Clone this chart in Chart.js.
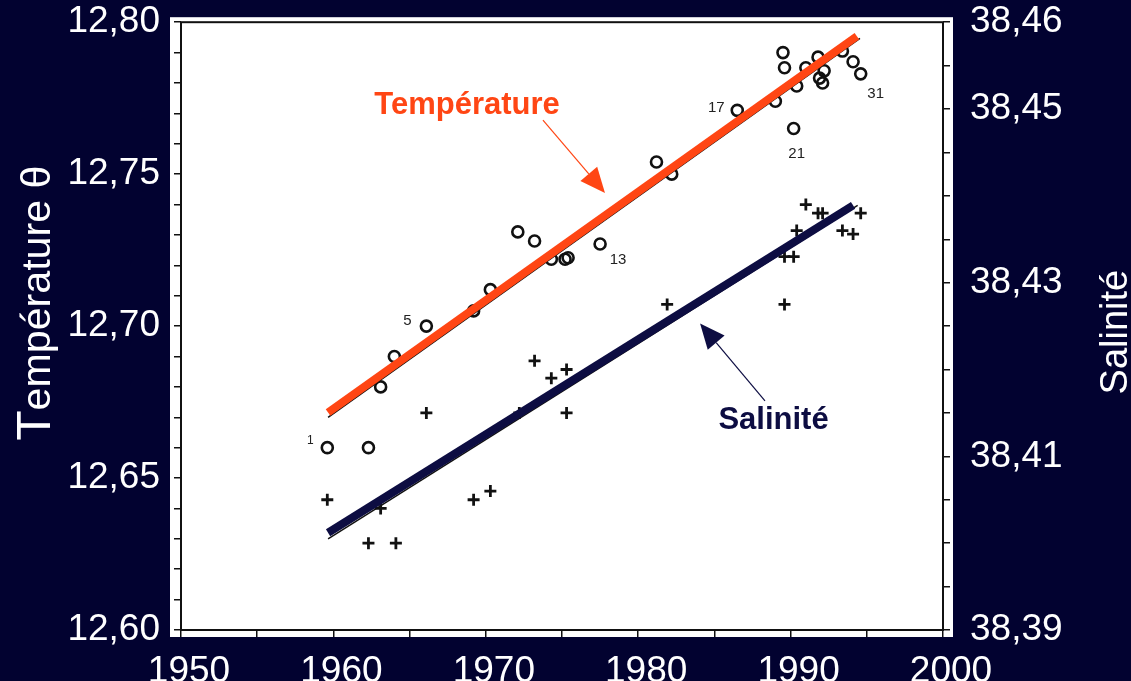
<!DOCTYPE html>
<html lang="fr">
<head>
<meta charset="utf-8">
<title>Température et salinité</title>
<script src="https://cdn.jsdelivr.net/npm/chart.js"></script>
<style>
  html, body { margin: 0; padding: 0; background: #020230; overflow: hidden; }
  #wrap { width: 1131px; height: 681px; overflow: hidden; }
  #chart { display: block; margin-top: -20px; }
</style>
</head>
<body>
<div id="wrap"><canvas id="chart" width="1131" height="701"></canvas></div>
<script>
// Température potentielle (cercles) et salinité (croix), eaux profondes, 1959-1995
const tempYears = [1959.6, 1962.3, 1963.1, 1964.0, 1966.1, 1969.2, 1970.3, 1972.1, 1973.2, 1974.3,
  1975.2, 1975.4, 1977.5, 1981.2, 1982.2, 1986.5, 1989.0, 1989.5, 1989.6, 1990.2,
  1990.4, 1991.0, 1991.8, 1992.2, 1991.9, 1992.1, 1993.4, 1994.1, 1994.6];
const tempVals = [12.660, 12.660, 12.680, 12.690, 12.700, 12.705, 12.712, 12.731, 12.728, 12.722,
  12.722, 12.7225, 12.727, 12.754, 12.750, 12.771, 12.774, 12.790, 12.785, 12.765,
  12.779, 12.785, 12.7885, 12.784, 12.7816, 12.780, 12.7905, 12.787, 12.783];
const tempTags = ['1', '', '', '', '5', '', '', '', '', '',
  '', '', '13', '', '', '17', '', '', '', '21',
  '', '', '', '', '', '', '', '', '31'];

const salYears = [1959.6, 1962.3, 1963.1, 1964.1, 1966.1, 1969.2, 1970.3, 1972.2, 1973.2, 1974.3,
  1975.3, 1975.3, 1981.9, 1989.6, 1989.6, 1990.2, 1990.4, 1991.0, 1991.8, 1992.1,
  1993.4, 1994.1, 1994.6];
const salVals = [38.405, 38.400, 38.404, 38.400, 38.415, 38.405, 38.406, 38.415, 38.421, 38.419,
  38.420, 38.415, 38.4275, 38.4275, 38.433, 38.433, 38.436, 38.439, 38.438, 38.438,
  38.436, 38.4356, 38.438];

// droites de tendance (trait coloré + trait noir d'origine)
const tempFitYears = [1959.65, 1994.35];
const tempFitVals = [12.6716, 12.7954];
const tempScanYears = [1959.65, 1994.55];
const tempScanVals = [12.670, 12.7947];
const salFitYears = [1959.65, 1994.1];
const salFitVals = [38.4012, 38.4389];
const salScanYears = [1959.65, 1994.4];
const salScanVals = [38.4005, 38.4389];

const xTickLabels = [1950, 1960, 1970, 1980, 1990, 2000];
const tempTickLabels = [12.60, 12.65, 12.70, 12.75, 12.80];
const salTickLabels = [38.39, 38.41, 38.43, 38.45, 38.46];

// annotations (coordonnées en données)
const tempNote = { text: 'Température', x: 1968.77, y: 12.7698, from: [1973.75, 12.7678], to: [1977.82, 12.7438] };
const salNote = { text: 'Salinité', x: 1988.88, y: 38.4131, from: [1988.32, 38.4164], to: [1984.06, 38.4253] };

const RED = '#ff4614';
const NAVY = '#0d0d42';
const BG = '#020230';
const FONT = '"Liberation Sans", Arial, sans-serif';

const pts = (xs, ys) => xs.map((x, i) => ({ x: x, y: ys[i] }));
const fmt = v => v.toFixed(2).replace('.', ',');
const near = (v, list) => list.some(t => Math.abs(t - v) < 1e-6);

const tagOffsets = { '1': [-17, -7], '5': [-19, -5], '13': [18, 16], '17': [-21, -2], '21': [3, 25], '31': [15, 20] };

const decor = {
  id: 'decor',
  beforeDraw(chart) {
    const { ctx, chartArea: a } = chart;
    ctx.save();
    ctx.fillStyle = BG;
    ctx.fillRect(0, 0, chart.width, chart.height);
    ctx.fillStyle = '#ffffff';
    ctx.fillRect(a.left - 11, a.top - 5, a.right - a.left + 21, a.bottom - a.top + 12);
    ctx.restore();
  },
  beforeDatasetsDraw(chart) {
    const { ctx, chartArea: a } = chart;
    ctx.save();
    ctx.strokeStyle = '#111';
    ctx.lineWidth = 2;
    ctx.strokeRect(a.left, a.top, a.right - a.left, a.bottom - a.top);
    ctx.restore();
  },
  afterDatasetsDraw(chart) {
    const { ctx } = chart;
    const xs = chart.scales.x, ys = chart.scales.y, ys1 = chart.scales.y1;
    ctx.save();
    // numéros des points
    ctx.fillStyle = '#222';
    ctx.textAlign = 'center';
    ctx.textBaseline = 'middle';
    tempTags.forEach((t, i) => {
      if (!t) return;
      const o = tagOffsets[t] || [0, 0];
      ctx.font = (t === '1' ? '12px ' : '15px ') + FONT;
      ctx.fillText(t, xs.getPixelForValue(tempYears[i]) + o[0], ys.getPixelForValue(tempVals[i]) + o[1]);
    });
    // étiquettes + flèches
    const arrow = (sx, sy, tx, ty, color, w) => {
      const ang = Math.atan2(ty - sy, tx - sx);
      const len = 25, half = 11;
      const bx = tx - len * Math.cos(ang), by = ty - len * Math.sin(ang);
      ctx.strokeStyle = color;
      ctx.lineWidth = w;
      ctx.beginPath();
      ctx.moveTo(sx, sy);
      ctx.lineTo(bx, by);
      ctx.stroke();
      ctx.fillStyle = color;
      ctx.beginPath();
      ctx.moveTo(tx, ty);
      ctx.lineTo(bx + half * Math.sin(ang), by - half * Math.cos(ang));
      ctx.lineTo(bx - half * Math.sin(ang), by + half * Math.cos(ang));
      ctx.closePath();
      ctx.fill();
    };
    arrow(xs.getPixelForValue(tempNote.from[0]), ys.getPixelForValue(tempNote.from[1]),
      xs.getPixelForValue(tempNote.to[0]), ys.getPixelForValue(tempNote.to[1]), RED, 1.2);
    arrow(xs.getPixelForValue(salNote.from[0]), ys1.getPixelForValue(salNote.from[1]),
      xs.getPixelForValue(salNote.to[0]), ys1.getPixelForValue(salNote.to[1]), NAVY, 1.2);
    ctx.textBaseline = 'alphabetic';
    ctx.font = 'bold 31px ' + FONT;
    ctx.fillStyle = RED;
    ctx.fillText(tempNote.text, xs.getPixelForValue(tempNote.x), ys.getPixelForValue(tempNote.y));
    ctx.fillStyle = NAVY;
    ctx.fillText(salNote.text, xs.getPixelForValue(salNote.x), ys1.getPixelForValue(salNote.y));
    ctx.restore();
  },
  afterDraw(chart) {
    const { ctx, chartArea: a } = chart;
    const midY = (a.top + a.bottom) / 2;
    ctx.save();
    ctx.fillStyle = '#ffffff';
    ctx.textBaseline = 'alphabetic';
    // titre gauche : grand T
    ctx.translate(36, midY - 23);
    ctx.rotate(-Math.PI / 2);
    ctx.font = '48px ' + FONT;
    const wT = ctx.measureText('T').width;
    ctx.font = '40px ' + FONT;
    const rest = 'empérature θ';
    const wR = ctx.measureText(rest).width;
    const k = 275 / (wT + wR);
    ctx.scale(k, 1);
    const x0 = -(wT + wR) / 2;
    ctx.font = '48px ' + FONT;
    ctx.fillText('T', x0, 14);
    ctx.font = '40px ' + FONT;
    ctx.fillText(rest, x0 + wT, 14);
    ctx.restore();
    // titre droit
    ctx.save();
    ctx.fillStyle = '#ffffff';
    ctx.translate(1113, midY + 6);
    ctx.rotate(-Math.PI / 2);
    ctx.font = '38px ' + FONT;
    ctx.textAlign = 'center';
    ctx.textBaseline = 'alphabetic';
    ctx.fillText('Salinité', 0, 14);
    ctx.restore();
  }
};

const tickFont = { family: FONT, size: 37 };
const gridOut = { drawOnChartArea: false, color: '#111', lineWidth: 1.5, tickLength: 7 };

new Chart(document.getElementById('chart').getContext('2d'), {
  type: 'scatter',
  data: {
    datasets: [
      { label: 'Température (droite)', data: pts(tempFitYears, tempFitVals), yAxisID: 'y', showLine: true,
        borderColor: RED, borderWidth: 8, pointRadius: 0, order: 0 },
      { label: 'Salinité (droite)', data: pts(salFitYears, salFitVals), yAxisID: 'y1', showLine: true,
        borderColor: NAVY, borderWidth: 8, pointRadius: 0, order: 1 },
      { label: 'Température (ajustement)', data: pts(tempScanYears, tempScanVals), yAxisID: 'y', showLine: true,
        borderColor: '#111', borderWidth: 1.5, pointRadius: 0, order: 2 },
      { label: 'Salinité (ajustement)', data: pts(salScanYears, salScanVals), yAxisID: 'y1', showLine: true,
        borderColor: '#111', borderWidth: 1.5, pointRadius: 0, order: 3 },
      { label: 'Température', data: pts(tempYears, tempVals), yAxisID: 'y',
        pointStyle: 'circle', pointRadius: 5.5, borderWidth: 2.6, borderColor: '#111',
        backgroundColor: 'rgba(0,0,0,0)', order: 4 },
      { label: 'Salinité', data: pts(salYears, salVals), yAxisID: 'y1',
        pointStyle: 'cross', pointRadius: 6, borderWidth: 2.8, borderColor: '#111', order: 5 }
    ]
  },
  options: {
    responsive: false,
    animation: false,
    layout: { padding: { top: 2, left: 0, right: 0, bottom: 0 } },
    plugins: { legend: { display: false }, tooltip: { enabled: false } },
    scales: {
      x: {
        type: 'linear', min: 1950, max: 2000,
        border: { display: false },
        grid: gridOut,
        ticks: {
          stepSize: 5, color: '#ffffff', font: tickFont, padding: 13, labelOffset: 8, maxRotation: 0,
          autoSkip: false,
          callback: v => near(v, xTickLabels) ? String(Math.round(v)) : ''
        },
        afterFit: s => { s.height = 51; }
      },
      y: {
        type: 'linear', position: 'left', min: 12.60, max: 12.80,
        border: { display: false },
        grid: gridOut,
        ticks: {
          stepSize: 0.01, color: '#ffffff', font: tickFont, padding: 14, autoSkip: false,
          callback: v => near(v, tempTickLabels) ? fmt(v) : ''
        },
        afterFit: s => { s.width = 181; }
      },
      y1: {
        type: 'linear', position: 'right', min: 38.39, max: 38.46,
        border: { display: false },
        grid: gridOut,
        afterBuildTicks: s => {
          const t = [];
          for (let i = 0; i <= 14; i++) t.push({ value: 38.39 + i * 0.005 });
          s.ticks = t;
        },
        ticks: {
          color: '#ffffff', font: tickFont, padding: 20, autoSkip: false,
          callback: v => near(v, salTickLabels) ? fmt(v) : ''
        },
        afterFit: s => { s.width = 188; }
      }
    }
  },
  plugins: [decor]
});
</script>
</body>
</html>
